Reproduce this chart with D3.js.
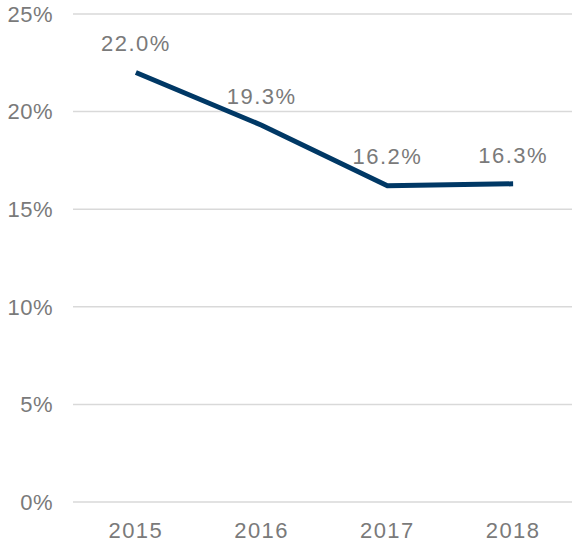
<!DOCTYPE html>
<html>
<head>
<meta charset="utf-8">
<script src="https://cdn.jsdelivr.net/npm/d3@7"></script>
<style>
  body { margin: 0; background: #fff; }
  svg text { font-family: "Liberation Sans", Arial, sans-serif; fill: #7a7a7a; letter-spacing: 1.5px; }
</style>
</head>
<body>
<svg width="572" height="543"></svg>
<script>
// data
var years = ["2015", "2016", "2017", "2018"];
var values = [22.0, 19.3, 16.2, 16.3];
var yTicks = [0, 5, 10, 15, 20, 25];

var svg = d3.select("svg");

var x = d3.scaleBand()
    .domain(years)
    .range([73, 576]);

var y = d3.scaleLinear()
    .domain([0, 25])
    .range([502, 14]);

// gridlines
svg.append("g")
    .selectAll("line")
    .data(yTicks)
    .enter().append("line")
      .attr("x1", 73)
      .attr("x2", 572)
      .attr("y1", function(d) { return y(d); })
      .attr("y2", function(d) { return y(d); })
      .attr("stroke", "#d9d9d9")
      .attr("stroke-width", 1.5);

// y labels
svg.append("g")
    .selectAll("text")
    .data(yTicks)
    .enter().append("text")
      .attr("x", 53)
      .attr("y", function(d) { return y(d); })
      .attr("dy", "0.35em")
      .attr("text-anchor", "end")
      .style("font-size", "22px")
      .style("letter-spacing", "0.5px")
      .text(function(d) { return d + "%"; });

// x labels
svg.append("g")
    .selectAll("text")
    .data(years)
    .enter().append("text")
      .attr("x", function(d) { return x(d) + x.bandwidth() / 2; })
      .attr("y", 530)
      .attr("dy", "0.35em")
      .attr("text-anchor", "middle")
      .style("font-size", "22px")
      .text(function(d) { return d; });

var line = d3.line()
    .x(function(d, i) { return x(years[i]) + x.bandwidth() / 2; })
    .y(function(d) { return y(d); });

svg.append("path")
    .datum(values)
    .attr("d", line)
    .attr("fill", "none")
    .attr("stroke", "#003865")
    .attr("stroke-width", 5);

// value labels
svg.append("g")
    .selectAll("text")
    .data(values)
    .enter().append("text")
      .attr("x", function(d, i) { return x(years[i]) + x.bandwidth() / 2; })
      .attr("y", function(d) { return y(d) - 29; })
      .attr("dy", "0.35em")
      .attr("text-anchor", "middle")
      .style("font-size", "22px")
      .text(function(d) { return d.toFixed(1) + "%"; });
</script>
</body>
</html>
